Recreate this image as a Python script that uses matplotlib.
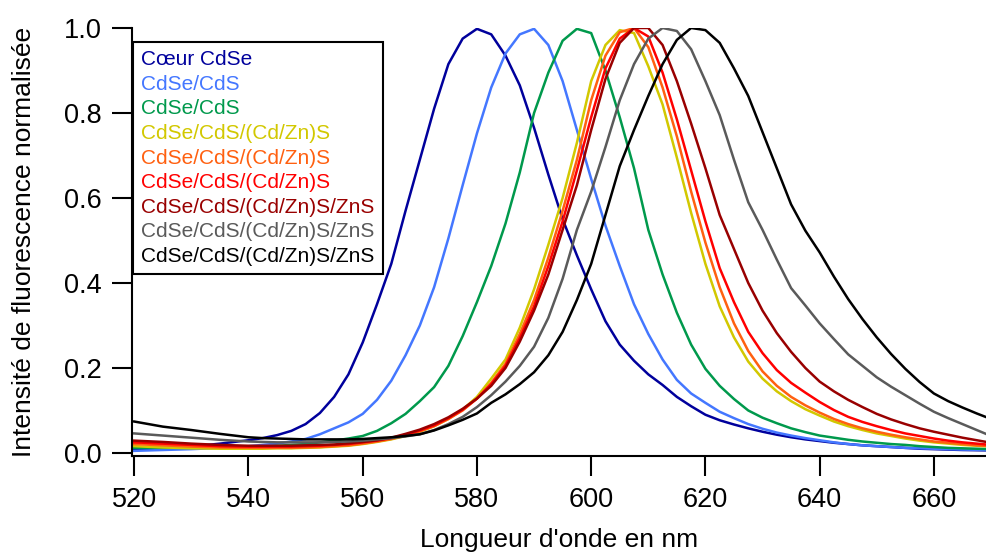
import matplotlib
matplotlib.use("Agg")
import matplotlib.pyplot as plt

plt.rcParams["font.family"] = ["Liberation Sans", "DejaVu Sans"]

# wavelength grid (nm): 5 nm steps on the flat baseline, 2.5 nm elsewhere
wavelength = [520, 525, 530, 535,
              540, 542.5, 545, 547.5, 550, 552.5, 555,
              557.5, 560, 562.5, 565, 567.5, 570, 572.5, 575, 577.5, 580, 582.5,
              585, 587.5, 590, 592.5, 595, 597.5, 600, 602.5, 605, 607.5, 610,
              612.5, 615, 617.5, 620, 622.5, 625, 627.5, 630, 632.5, 635, 637.5,
              640, 642.5, 645, 647.5, 650, 652.5, 655, 657.5, 660, 662.5, 665, 667.5, 670]

coeur_cdse = [0.007, 0.010, 0.015, 0.022,
              0.030, 0.035, 0.042, 0.052, 0.068, 0.094, 0.132,
              0.185, 0.260, 0.350, 0.445, 0.570, 0.690, 0.810, 0.915, 0.975, 0.998, 0.985,
              0.935, 0.865, 0.765, 0.655, 0.550, 0.465, 0.385, 0.310, 0.255, 0.217, 0.185,
              0.160, 0.132, 0.110, 0.090, 0.077, 0.067, 0.058, 0.050, 0.043, 0.037, 0.032,
              0.028, 0.024, 0.021, 0.018, 0.016, 0.014, 0.012, 0.010, 0.009, 0.008, 0.007, 0.0065, 0.006]
cdse_cds_1 = [0.005, 0.007, 0.009, 0.012,
              0.016, 0.019, 0.022, 0.027, 0.033, 0.044, 0.058,
              0.072, 0.092, 0.125, 0.170, 0.230, 0.300, 0.390, 0.505, 0.630, 0.752, 0.860,
              0.940, 0.985, 0.998, 0.960, 0.875, 0.760, 0.645, 0.535, 0.440, 0.350, 0.280,
              0.220, 0.172, 0.140, 0.118, 0.097, 0.082, 0.068, 0.057, 0.048, 0.041, 0.035,
              0.030, 0.025, 0.021, 0.018, 0.016, 0.014, 0.012, 0.011, 0.010, 0.009, 0.008, 0.0075, 0.007]
cdse_cds_2 = [0.012, 0.012, 0.012, 0.013,
              0.014, 0.015, 0.017, 0.019, 0.021, 0.025, 0.029,
              0.034, 0.040, 0.052, 0.070, 0.092, 0.122, 0.155, 0.205, 0.275, 0.355, 0.440,
              0.540, 0.660, 0.800, 0.895, 0.970, 0.998, 0.988, 0.900, 0.790, 0.670, 0.525,
              0.420, 0.330, 0.255, 0.198, 0.158, 0.127, 0.100, 0.083, 0.070, 0.058, 0.049,
              0.041, 0.036, 0.031, 0.027, 0.024, 0.021, 0.019, 0.016, 0.014, 0.012, 0.011, 0.010, 0.009]
cdznS_1 = [0.016, 0.013, 0.011, 0.010,
           0.010, 0.010, 0.011, 0.011, 0.012, 0.013, 0.015,
           0.017, 0.021, 0.026, 0.032, 0.040, 0.050, 0.063, 0.080, 0.102, 0.132, 0.175,
           0.220, 0.295, 0.385, 0.490, 0.600, 0.730, 0.875, 0.960, 0.995, 0.988, 0.910,
           0.820, 0.695, 0.565, 0.445, 0.345, 0.272, 0.215, 0.175, 0.145, 0.122, 0.103,
           0.088, 0.074, 0.063, 0.054, 0.046, 0.040, 0.034, 0.029, 0.025, 0.022, 0.019, 0.017, 0.015]
cdznS_2 = [0.021, 0.018, 0.015, 0.013,
           0.012, 0.012, 0.012, 0.012, 0.013, 0.014, 0.016,
           0.018, 0.022, 0.027, 0.033, 0.041, 0.051, 0.063, 0.080, 0.100, 0.128, 0.165,
           0.210, 0.280, 0.360, 0.460, 0.570, 0.690, 0.830, 0.935, 0.990, 1.000, 0.955,
           0.860, 0.745, 0.615, 0.495, 0.390, 0.305, 0.240, 0.192, 0.158, 0.132, 0.112,
           0.095, 0.080, 0.068, 0.058, 0.050, 0.043, 0.037, 0.032, 0.027, 0.024, 0.021, 0.018, 0.016]
cdznS_3 = [0.025, 0.022, 0.019, 0.016,
           0.015, 0.015, 0.015, 0.015, 0.016, 0.017, 0.019,
           0.021, 0.025, 0.029, 0.035, 0.043, 0.053, 0.065, 0.082, 0.102, 0.128, 0.162,
           0.205, 0.270, 0.345, 0.440, 0.545, 0.665, 0.790, 0.905, 0.975, 1.000, 0.980,
           0.895, 0.785, 0.665, 0.545, 0.435, 0.355, 0.285, 0.235, 0.195, 0.165, 0.142,
           0.120, 0.101, 0.085, 0.073, 0.063, 0.054, 0.046, 0.040, 0.034, 0.029, 0.025, 0.022, 0.019]
zns_1 = [0.029, 0.026, 0.022, 0.019,
         0.017, 0.017, 0.017, 0.017, 0.018, 0.019, 0.020,
         0.023, 0.026, 0.030, 0.036, 0.045, 0.055, 0.068, 0.084, 0.104, 0.128, 0.158,
         0.200, 0.262, 0.335, 0.420, 0.525, 0.630, 0.760, 0.880, 0.965, 1.000, 1.000,
         0.960, 0.875, 0.775, 0.670, 0.560, 0.480, 0.400, 0.335, 0.282, 0.238, 0.200,
         0.168, 0.145, 0.125, 0.108, 0.092, 0.079, 0.068, 0.058, 0.050, 0.043, 0.036, 0.030, 0.024]
zns_2 = [0.046, 0.041, 0.036, 0.031,
         0.027, 0.026, 0.025, 0.025, 0.025, 0.025, 0.026,
         0.027, 0.029, 0.032, 0.035, 0.039, 0.044, 0.054, 0.068, 0.085, 0.108, 0.136,
         0.168, 0.205, 0.250, 0.318, 0.410, 0.525, 0.615, 0.720, 0.830, 0.915, 0.975,
         1.000, 0.993, 0.950, 0.875, 0.795, 0.690, 0.590, 0.525, 0.455, 0.388, 0.347,
         0.305, 0.268, 0.232, 0.205, 0.178, 0.156, 0.136, 0.116, 0.097, 0.082, 0.068, 0.054, 0.040]
zns_3 = [0.074, 0.062, 0.054, 0.045,
         0.037, 0.035, 0.034, 0.033, 0.032, 0.032, 0.032,
         0.032, 0.033, 0.035, 0.037, 0.040, 0.044, 0.053, 0.065, 0.078, 0.093, 0.118,
         0.138, 0.162, 0.190, 0.230, 0.285, 0.360, 0.445, 0.560, 0.675, 0.760, 0.840,
         0.915, 0.972, 1.000, 0.995, 0.965, 0.905, 0.840, 0.755, 0.670, 0.585, 0.523,
         0.472, 0.415, 0.362, 0.315, 0.272, 0.233, 0.198, 0.167, 0.140, 0.122, 0.107, 0.093, 0.080]

series = [coeur_cdse, cdse_cds_1, cdse_cds_2, cdznS_1, cdznS_2, cdznS_3, zns_1, zns_2, zns_3]
labels = ["Cœur CdSe", "CdSe/CdS", "CdSe/CdS",
          "CdSe/CdS/(Cd/Zn)S", "CdSe/CdS/(Cd/Zn)S", "CdSe/CdS/(Cd/Zn)S",
          "CdSe/CdS/(Cd/Zn)S/ZnS", "CdSe/CdS/(Cd/Zn)S/ZnS", "CdSe/CdS/(Cd/Zn)S/ZnS"]
colors = ["#00009c", "#4477ff", "#00994c", "#d2c800", "#ff6010",
          "#ff0000", "#990000", "#5a5a5a", "#000000"]

fig = plt.figure(figsize=(9.87, 5.52), dpi=100, facecolor="#ffffff")
ax = fig.add_axes([0.1337, 0.174, 0.8663, 0.7753])

for values, label, color in zip(series, labels, colors):
    ax.plot(wavelength, values, color=color, linewidth=1.8, label=label)

ax.set_xlim(519.6, 669.3)
ax.set_ylim(-0.007, 1.0)
ax.set_xticks([520, 540, 560, 580, 600, 620, 640, 660])
ax.set_yticks([0.0, 0.2, 0.4, 0.6, 0.8, 1.0])
ax.set_yticklabels(["0.0", "0.2", "0.4", "0.6", "0.8", "1.0"])

for side in ["top", "right"]:
    ax.spines[side].set_visible(False)
for side in ["left", "bottom"]:
    ax.spines[side].set_linewidth(1.5)
ax.tick_params(axis="both", direction="out", width=1.5, length=14.5,
               labelsize=19.5, colors="#000000")
ax.tick_params(axis="x", pad=8)
ax.tick_params(axis="y", pad=7)

ax.set_xlabel("Longueur d'onde en nm", fontsize=19, labelpad=11)
ax.set_ylabel("Intensité de fluorescence normalisée", fontsize=19, labelpad=20)

leg = ax.legend(loc="upper left", bbox_to_anchor=(0.001, 0.967), fontsize=15,
                handlelength=0, handletextpad=0, labelspacing=0.265, borderpad=0.4,
                borderaxespad=0, fancybox=False, framealpha=1, edgecolor="#000000")
leg.get_frame().set_linewidth(1.5)
for handle, text, color in zip(leg.legend_handles, leg.get_texts(), colors):
    handle.set_visible(False)
    text.set_color(color)

fig.savefig("out.png", dpi=100, facecolor="#ffffff")
